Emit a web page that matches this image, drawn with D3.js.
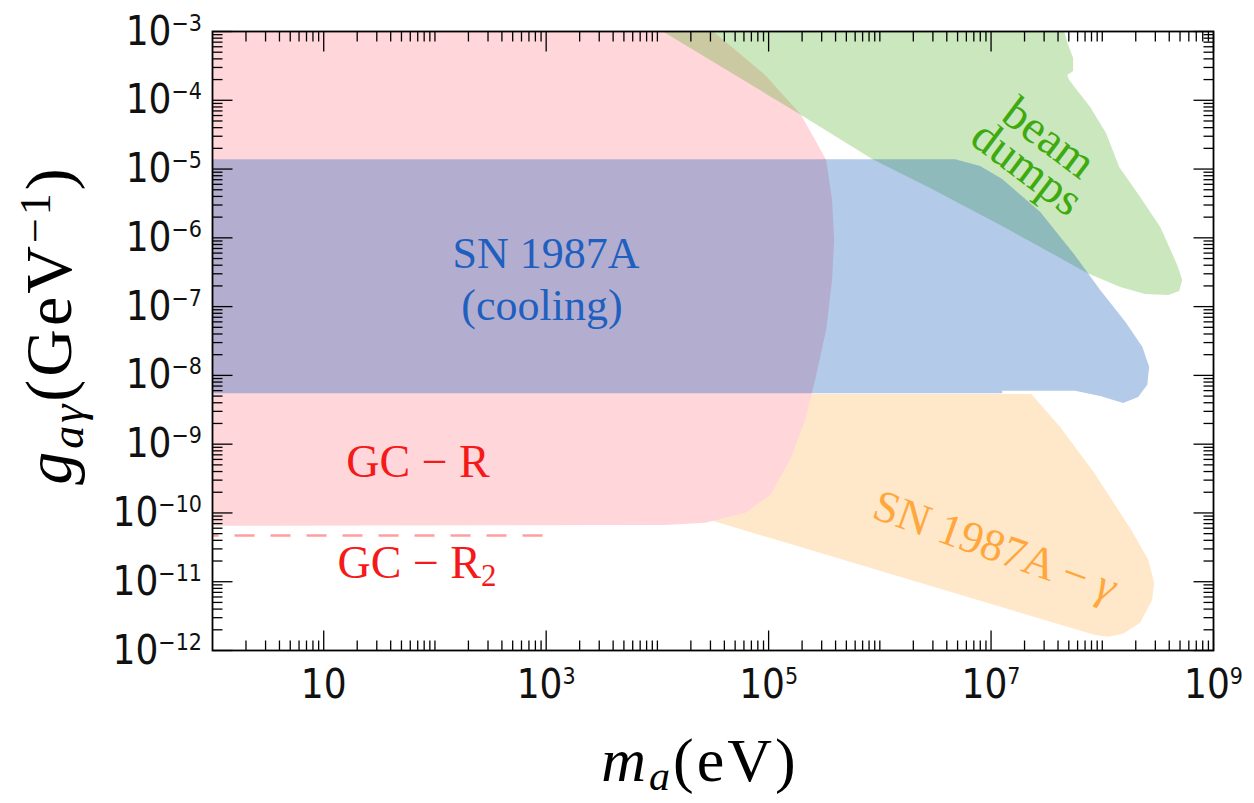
<!DOCTYPE html>
<html><head><meta charset="utf-8">
<script src="https://cdn.jsdelivr.net/npm/d3@7"></script>
<style>body{margin:0;background:#fff}</style>
</head><body>
<svg id="chart" width="1254" height="803"></svg>
<script>
// ---------- data (m_a in eV, g in GeV^-1) ----------
const xDomain = [1, 1e9];
const yDomain = [1e-12, 1e-3];
const xTickValues = [10, 1e3, 1e5, 1e7, 1e9];
const xTickBase = ["10", "10", "10", "10", "10"];
const xTickExp = ["", "3", "5", "7", "9"];
const yTickValues = [1e-3, 1e-4, 1e-5, 1e-6, 1e-7, 1e-8, 1e-9, 1e-10, 1e-11, 1e-12];
const yTickExp = ["−3", "−4", "−5", "−6", "−7", "−8", "−9", "−10", "−11", "−12"];

// GC - R (horizontal branch stars)
const gcR = [[1,1e-3],[3.17e4,1e-3],[9.3e4,2.33e-4],[1.96e5,6.1e-5],[2.62e5,2.65e-5],[3.29e5,1.36e-5],
  [3.72e5,3.56e-6],[3.88e5,9.3e-7],[3.72e5,2.44e-7],[3.29e5,4.58e-8],[2.62e5,8.6e-9],[2.13e5,2.25e-9],
  [1.56e5,5.9e-10],[1.03e5,1.83e-10],[6.15e4,1.0e-10],[2.69e4,7.2e-11],[1.17e4,6.7e-11],[1,6.5e-11]];
// beam dumps
const beamDumps = [[1.12e4,1e-3],[1.96e5,6.1e-5],[8.53e5,1.40e-5],[2.83e6,5.3e-6],[1.21e7,1.54e-6],
  [7.31e7,3.09e-7],[1.45e8,1.93e-7],[2.43e8,1.53e-7],[3.92e8,1.48e-7],[4.92e8,1.69e-7],[5.23e8,2.44e-7],
  [4.72e8,4.04e-7],[3.32e8,1.44e-6],[2.19e8,3.94e-6],[1.42e8,1.07e-5],[1.08e8,3.35e-5],[7.78e7,8.0e-5],
  [5.04e7,1.97e-4],[4.84e7,2.33e-4],[5.47e7,2.67e-4],[5.47e7,4.12e-4],[4.93e7,6.37e-4],[4.54e7,1e-3]];
// SN 1987A cooling
const snCooling = [[1,1.39e-5],[4.75e6,1.39e-5],[7.98e6,1.11e-5],[1.26e7,7.18e-6],[2.77e7,2.38e-6],
  [5.47e7,6.04e-7],[9.58e7,1.75e-7],[1.61e8,6.0e-8],[2.29e8,2.6e-8],[2.64e8,1.33e-8],[2.54e8,7.28e-9],
  [2.10e8,4.87e-9],[1.54e8,3.98e-9],[9.58e7,5.03e-9],[5.69e7,5.96e-9],[2.82e7,6.0e-9],[1.26e7,6.0e-9],
  [1.26e7,5.51e-9],[1,5.51e-9]];
// SN 1987A - gamma
const snGamma = [[8.4e4,5.38e-9],[2.30e7,5.38e-9],[4.18e7,1.78e-9],[8.46e7,3.83e-10],[1.82e8,5.68e-11],
  [2.59e8,2.08e-11],[2.93e8,9.64e-12],[2.81e8,5.46e-12],[2.19e8,2.53e-12],[1.54e8,1.75e-12],
  [1.13e8,1.58e-12],[8.46e7,1.69e-12],[2.92e4,7.94e-11],[1.97e4,7.94e-11]];
// GC - R2 dashed bound
const gcR2 = [[1,4.7e-11],[1e3,4.7e-11]];

// ---------- layout ----------
const svg = d3.select("#chart");
const L = 212.5, R = 1213.5, T = 31.5, B = 650.5;
const x = d3.scaleLog().domain(xDomain).range([L, R]);
const y = d3.scaleLog().domain(yDomain).range([B, T]);
const line = d3.line().x(d => x(d[0])).y(d => y(d[1]));

svg.append("defs").append("clipPath").attr("id","clip")
  .append("rect").attr("x",L).attr("y",T).attr("width",R-L).attr("height",B-T);
const plot = svg.append("g").attr("clip-path","url(#clip)");

plot.append("path").attr("d", line(snGamma) + "Z").attr("fill", "#FFE8C9");
plot.append("path").attr("d", line(gcR) + "Z").attr("fill", "#FFD6DA");
plot.append("path").attr("d", line(beamDumps) + "Z").attr("fill", "rgb(60,165,10)").attr("fill-opacity", 0.27);
plot.append("path").attr("d", line(snCooling) + "Z").attr("fill", "rgb(20,90,185)").attr("fill-opacity", 0.32);
plot.append("path").attr("d", line(gcR2)).attr("fill","none").attr("stroke","#FF9E9E")
  .attr("stroke-width",2.5).attr("stroke-dasharray","20,16").attr("stroke-dashoffset",14);

// ---------- region labels ----------
const serif = "'Liberation Serif','Times New Roman',serif";
function label(cx, cy, color, size, rot) {
  return svg.append("text").attr("transform", `translate(${cx},${cy}) rotate(${rot||0})`)
    .attr("text-anchor","middle").attr("font-family", serif).attr("font-size", size).attr("fill", color);
}
label(546, 268, "#1F5FC0", 44).text("SN 1987A");
label(542, 320, "#1F5FC0", 44).text("(cooling)");
label(418, 477, "#F51A1A", 46).text("GC − R");
const r2 = label(417, 578, "#F51A1A", 46);
r2.append("tspan").text("GC − R");
r2.append("tspan").attr("font-size", 31).attr("dy", 8).text("2");
const sg = label(990, 560, "#FFA73D", 45, 19.6);
sg.append("tspan").text("SN 1987A − ");
sg.append("tspan").attr("font-style","italic").text("γ");
label(1040, 150, "#3DAA10", 47, 37).text("beam");
label(1018, 180, "#3DAA10", 47, 37).text("dumps");

// ---------- frame & ticks ----------
const ax = svg.append("g").attr("stroke","#000").attr("stroke-width",1.3);
const majLen = 20, minLen = 10;
const xMinor = [];
for (let n = 0; n <= 8; n++) for (let k = 1; k <= 9; k++) {
  const v = k * Math.pow(10, n);
  if (v > 1 && !xTickValues.some(t => Math.abs(t - v) / t < 1e-9)) xMinor.push(v);
}
const yMinor = [];
for (let n = -12; n <= -4; n++) for (let k = 2; k <= 9; k++) yMinor.push(k * Math.pow(10, n));

function xt(vals, len) {
  vals.forEach(v => {
    const px = x(v);
    ax.append("line").attr("x1",px).attr("x2",px).attr("y1",B).attr("y2",B-len);
    ax.append("line").attr("x1",px).attr("x2",px).attr("y1",T).attr("y2",T+len);
  });
}
function yt(vals, len) {
  vals.forEach(v => {
    const py = y(v);
    ax.append("line").attr("y1",py).attr("y2",py).attr("x1",L).attr("x2",L+len);
    ax.append("line").attr("y1",py).attr("y2",py).attr("x1",R).attr("x2",R-len);
  });
}
xt(xTickValues, majLen); xt(xMinor, minLen);
yt(yTickValues, majLen); yt(yMinor, minLen);
svg.append("rect").attr("x",L).attr("y",T).attr("width",R-L).attr("height",B-T)
  .attr("fill","none").attr("stroke","#000").attr("stroke-width",1.8);

// ---------- tick labels ----------
const sans = "'Liberation Sans Narrow','DejaVu Sans Condensed','Liberation Sans',sans-serif";
xTickValues.forEach((v, i) => {
  const t = svg.append("text").attr("x", x(v)).attr("y", 698).attr("text-anchor","middle")
    .attr("font-family", sans).attr("font-size", 40).attr("fill","#111");
  t.append("tspan").text(xTickBase[i]);
  if (xTickExp[i]) t.append("tspan").attr("font-size", 23).attr("dy", -14).text(xTickExp[i]);
});
yTickValues.forEach((v, i) => {
  const t = svg.append("text").attr("x", 202).attr("y", y(v) + 13).attr("text-anchor","end")
    .attr("font-family", sans).attr("font-size", 40).attr("fill","#111");
  t.append("tspan").text("10");
  t.append("tspan").attr("font-size", 23).attr("dy", -14).text(yTickExp[i]);
});

// ---------- axis titles ----------
const xt2 = svg.append("text").attr("x", 700).attr("y", 781).attr("text-anchor","middle")
  .attr("font-family", serif).attr("font-size", 62).attr("letter-spacing", 3).attr("fill","#000");
xt2.append("tspan").attr("font-style","italic").text("m");
xt2.append("tspan").attr("font-style","italic").attr("font-size", 42).attr("dy", 9).text("a");
xt2.append("tspan").attr("dy", -9).text("(eV)");

const yt2 = svg.append("text").attr("transform","translate(71,325) rotate(-90)").attr("text-anchor","middle")
  .attr("font-family", serif).attr("font-size", 66).attr("letter-spacing", 3).attr("fill","#000");
yt2.append("tspan").attr("font-style","italic").text("g");
yt2.append("tspan").attr("font-style","italic").attr("font-size", 46).attr("dy", 12).text("aγ");
yt2.append("tspan").attr("dy", -12).text("(GeV");
yt2.append("tspan").attr("font-size", 44).attr("dy", -21).text("−1");
yt2.append("tspan").attr("dy", 21).text(")");
</script>
</body></html>
